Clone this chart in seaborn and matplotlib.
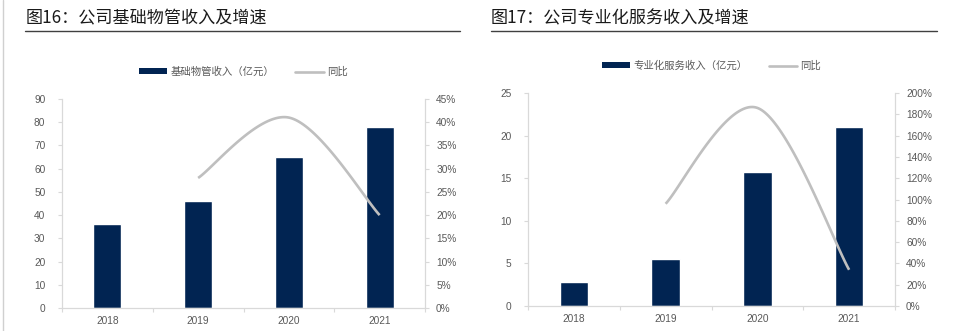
import numpy as np
import pandas as pd
import matplotlib
matplotlib.use("Agg")
import matplotlib.pyplot as plt
import seaborn as sns
from matplotlib.lines import Line2D
from matplotlib.patches import Patch
from matplotlib.ticker import MultipleLocator, PercentFormatter, FixedLocator, NullFormatter

sns.set_theme(style="white")
plt.rcParams['font.family'] = ['Liberation Sans', 'Noto Sans CJK SC', 'DejaVu Sans']

# ---- data ----
years = ["2018", "2019", "2020", "2021"]
growth_years = ["2019", "2020", "2021"]

basic_revenue = [36.0, 46.0, 65.0, 78.0]          # 亿元
basic_growth = [28.0, 41.0, 20.0]                 # %

special_revenue = [2.8, 5.5, 15.7, 21.0]          # 亿元
special_growth = [96.0, 186.0, 34.0]              # %

titles = ["图16：公司基础物管收入及增速", "图17：公司专业化服务收入及增速"]
bar_labels = ["基础物管收入（亿元）", "专业化服务收入（亿元）"]
line_label = "同比"

BAR_COLOR = "#012452"
LINE_COLOR = "#BFBFBF"
SPINE_COLOR = "#D9D9D9"
TICK_COLOR = "#595959"
TICK_SIZE = 7.3


def smooth(xs, ys, n=60):
    """Catmull-Rom smoothing through the given points (spreadsheet-style smoothed line)."""
    pts = np.column_stack([xs, ys]).astype(float)
    ext = np.vstack([pts[0], pts, pts[-1]])
    out = []
    t = np.linspace(0, 1, n)[:, None]
    for i in range(1, len(ext) - 2):
        p0, p1, p2, p3 = ext[i - 1], ext[i], ext[i + 1], ext[i + 2]
        c1 = p1 + (p2 - p0) / 6.0
        c2 = p2 - (p3 - p1) / 6.0
        seg = ((1 - t) ** 3) * p1 + 3 * ((1 - t) ** 2) * t * c1 + 3 * (1 - t) * t ** 2 * c2 + t ** 3 * p2
        out.append(seg if i == 1 else seg[1:])
    arr = np.vstack(out)
    return arr[:, 0], arr[:, 1]


def draw_panel(fig, rect, revenue, growth, ymax, ystep, gmax, gstep, bar_label):
    ax = fig.add_axes(rect)
    df = pd.DataFrame({"year": years, "revenue": revenue})
    sns.barplot(data=df, x="year", y="revenue", color=BAR_COLOR, saturation=1,
                width=0.31, ax=ax)
    ax.set_xlim(-0.5, 3.5)
    ax.set_ylim(0, ymax)
    ax.yaxis.set_major_locator(MultipleLocator(ystep))
    ax.set_xlabel("")
    ax.set_ylabel("")

    # category boundary ticks on the x axis, labels without ticks
    ax.xaxis.set_minor_locator(FixedLocator(np.arange(-0.5, 3.6, 1.0)))
    ax.xaxis.set_minor_formatter(NullFormatter())
    ax.tick_params(axis="x", which="major", length=0, labelsize=TICK_SIZE,
                   labelcolor=TICK_COLOR, pad=6)
    ax.tick_params(axis="x", which="minor", length=3, color=SPINE_COLOR, width=0.8,
                   direction="out", bottom=True)
    ax.tick_params(axis="y", length=3, color=SPINE_COLOR, width=0.8, direction="out",
                   left=True, labelsize=TICK_SIZE, labelcolor=TICK_COLOR, pad=9)

    for side in ["top", "right"]:
        ax.spines[side].set_visible(False)
    for side in ["left", "bottom"]:
        ax.spines[side].set_color(SPINE_COLOR)
        ax.spines[side].set_linewidth(0.9)

    ax2 = ax.twinx()
    gx = [years.index(y) for y in growth_years]
    sx, sy = smooth(gx, growth)
    ax2.plot(sx, sy, color=LINE_COLOR, lw=1.9, solid_capstyle="butt")
    ax2.set_ylim(0, gmax)
    ax2.yaxis.set_major_locator(MultipleLocator(gstep))
    ax2.yaxis.set_major_formatter(PercentFormatter(decimals=0))
    ax2.tick_params(axis="y", length=3, color=SPINE_COLOR, width=0.8, direction="out",
                    right=True, labelsize=TICK_SIZE, labelcolor=TICK_COLOR, pad=5)
    for side in ["top", "left", "bottom"]:
        ax2.spines[side].set_visible(False)
    ax2.spines["right"].set_color(SPINE_COLOR)
    ax2.spines["right"].set_linewidth(0.9)
    ax2.grid(False)
    ax.grid(False)

    handles = [Patch(facecolor=BAR_COLOR, edgecolor="none", label=bar_label),
               Line2D([], [], color=LINE_COLOR, lw=1.9, label=line_label)]
    cx = rect[0] + rect[2] / 2
    cy = rect[1] + rect[3] + 27 / 331
    fig.legend(handles=handles, loc="center", bbox_to_anchor=(cx, cy), ncol=2,
               frameon=False, fontsize=7.5, handlelength=2.7, handleheight=0.5,
               handletextpad=0.35, columnspacing=2.0, labelcolor=TICK_COLOR)
    return ax


W, H = 965, 331
fig = plt.figure(figsize=(W / 100, H / 100), dpi=100)

def fx(px):
    return px / W

def fy(py):
    return 1 - py / H

# left panel
draw_panel(fig, [fx(62), fy(308), fx(425 - 62), (308 - 99) / H],
           basic_revenue, basic_growth, 90, 10, 45, 5, bar_labels[0])
# right panel
draw_panel(fig, [fx(528), fy(306), fx(895 - 528), (306 - 93) / H],
           special_revenue, special_growth, 25, 5, 200, 20, bar_labels[1])

# titles with underline rules
for tx, x0, x1, title in [(26, 25, 460, titles[0]), (491, 491, 937, titles[1])]:
    fig.text(fx(tx), fy(18), title, fontsize=12.3, color="#1A1A1A",
             va="center", ha="left", family=['Noto Sans CJK SC', 'DejaVu Sans'])
    fig.add_artist(Line2D([fx(x0), fx(x1)], [fy(30.5), fy(30.5)],
                          color="#404040", lw=1.0))

# thin frame line at the left edge
fig.add_artist(Line2D([fx(3), fx(3)], [0, 1], color="#D0D0D0", lw=1.0))

fig.savefig("out.png", dpi=100)
